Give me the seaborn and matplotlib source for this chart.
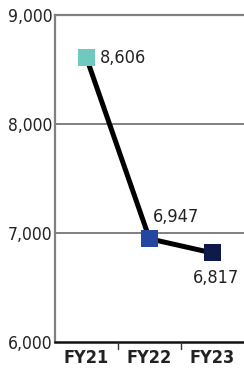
import matplotlib
matplotlib.use("Agg")
import matplotlib.pyplot as plt
import seaborn as sns
import pandas as pd

# data
years = ["FY21", "FY22", "FY23"]
values = [8606, 6947, 6817]
marker_colors = ["#6fc9be", "#2346a0", "#0d1a4a"]
label_text = ["8,606", "6,947", "6,817"]
y_ticks = [6000, 7000, 8000, 9000]

sns.set_style("white")
plt.rcParams["font.family"] = ["DejaVu Sans"]
plt.rcParams["font.stretch"] = "condensed"

df = pd.DataFrame({"year": years, "value": values})

fig = plt.figure(figsize=(2.44, 3.68), dpi=100)
ax = fig.add_axes([55 / 244, 1 - 342 / 368, 1 - 55 / 244, 327 / 368])

# connecting line, then the coloured square markers on top
sns.lineplot(data=df, x="year", y="value", color="black", linewidth=3.6,
             ax=ax, zorder=3, sort=False)
sns.scatterplot(data=df, x="year", y="value", hue="year",
                palette=dict(zip(years, marker_colors)), marker="s", s=150,
                linewidth=0, ax=ax, zorder=4, legend=False)

ax.set_ylim(6000, 9000)
ax.set_xlim(-0.5, 2.5)
ax.set_yticks(y_ticks)
ax.set_yticklabels([f"{v:,}" for v in y_ticks], fontsize=12.5, color="#222222")
ax.set_xticks([0, 1, 2])
ax.set_xticklabels(years, fontsize=13, fontweight="bold", color="#222222")
ax.tick_params(axis="x", length=0, pad=5)
ax.tick_params(axis="y", length=0, pad=2)
ax.set_xlabel("")
ax.set_ylabel("")

# boundary ticks between categories
for xb in [0.5, 1.5]:
    ax.plot([xb, xb], [6000, 6000 - 3000 * 7 / 327], color="#333333",
            linewidth=1, clip_on=False, zorder=5)

# grid lines
for yv in [7000, 8000]:
    ax.axhline(yv, color="#808080", linewidth=1.4, zorder=1)

ax.spines["right"].set_visible(False)
ax.spines["top"].set_color("#808080")
ax.spines["top"].set_linewidth(1.6)
ax.spines["left"].set_color("#808080")
ax.spines["left"].set_linewidth(1.6)
ax.spines["bottom"].set_color("#111111")
ax.spines["bottom"].set_linewidth(1.8)

# value labels
offsets = [(13, 0, "left", "center"), (3, 22, "left", "center"),
           (27, -25, "right", "center")]
for i, (dx, dy, ha, va) in enumerate(offsets):
    ax.annotate(label_text[i], (i, values[i]), xytext=(dx * 0.72, dy * 0.72),
                textcoords="offset points", ha=ha, va=va, fontsize=13,
                color="#222222", zorder=6)

fig.savefig("out.png", dpi=100)
